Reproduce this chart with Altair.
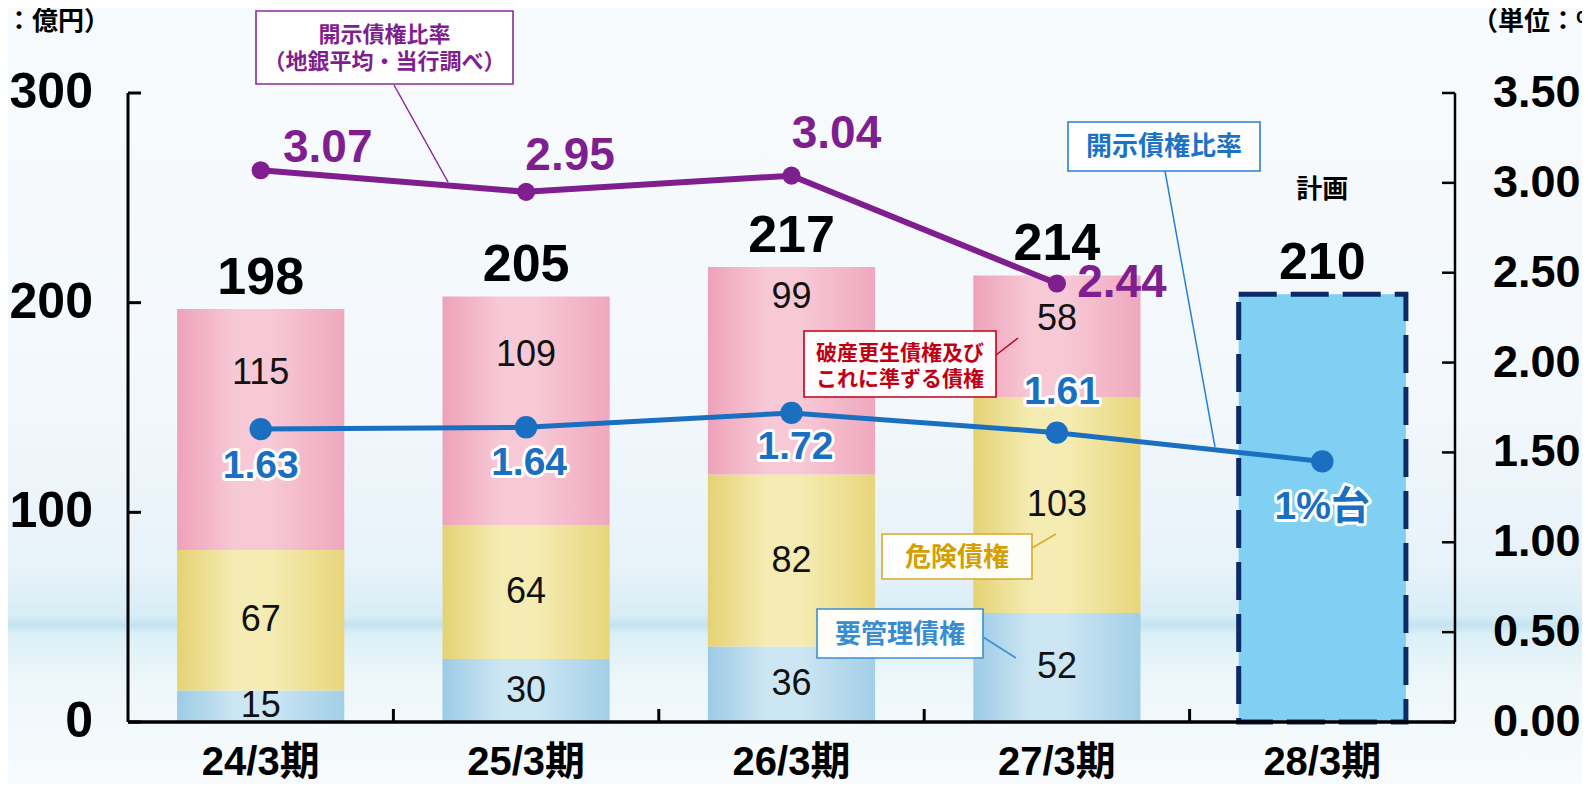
import altair as alt
import pandas as pd

# ---------------- data ----------------
categories = ["24/3期", "25/3期", "26/3期", "27/3期", "28/3期"]
youkanri = [15, 30, 36, 52]        # 要管理債権
kiken = [67, 64, 82, 103]          # 危険債権
hasan = [115, 109, 99, 58]         # 破産更生債権及びこれに準ずる債権
total_labels = ["198", "205", "217", "214", "210"]
plan_bar_height = 204              # drawn height of the 28/3 plan bar
ratio_regional = [3.07, 2.95, 3.04, 2.44]          # 開示債権比率（地銀平均・当行調べ）
ratio_regional_labels = ["3.07", "2.95", "3.04", "2.44"]
ratio_own = [1.63, 1.64, 1.72, 1.61, 1.45]         # 開示債権比率
ratio_own_labels = ["1.63", "1.64", "1.72", "1.61", "1%台"]
left_ticks = [0, 100, 200, 300]
left_tick_labels = ["0", "100", "200", "300"]
right_ticks = [0, 0.5, 1.0, 1.5, 2.0, 2.5, 3.0, 3.5]
right_tick_labels = ["0.00", "0.50", "1.00", "1.50", "2.00", "2.50", "3.00", "3.50"]

# ---------------- styles ----------------
W, H = 1327, 629
NUM = "Liberation Sans"
JP = "Noto Sans CJK JP"
MIX = "Liberation Sans, Noto Sans CJK JP"
PURPLE = "#7f1f8f"
BLUE = "#1a6fc0"
P_INNER = 0.37

xscale = alt.Scale(domain=categories, paddingInner=P_INNER, paddingOuter=P_INNER / 2)
lscale = alt.Scale(domain=[0, 300], nice=False, zero=True)
rscale = alt.Scale(domain=[0, 3.5], nice=False, zero=True)


def X():
    return alt.X("cat:N", sort=categories, scale=xscale, axis=None)


def YL(f):
    return alt.Y(f, scale=lscale, axis=None)


def YR(f):
    return alt.Y(f, scale=rscale, axis=None)


def grad(c_edge, c_mid, c_edge2):
    return alt.LinearGradient(
        gradient="linear", x1=0, x2=1, y1=0, y2=0,
        stops=[alt.GradientStop(offset=0, color=c_edge),
               alt.GradientStop(offset=0.35, color=c_mid),
               alt.GradientStop(offset=0.55, color=c_mid),
               alt.GradientStop(offset=1, color=c_edge2)])


one = pd.DataFrame({"k": [0]})

# ---------------- stacked segments ----------------
series_names = ["要管理債権", "危険債権", "破産更生"]
series_vals = [youkanri, kiken, hasan]
rows = []
for i in range(4):
    lo = 0
    for name, vals in zip(series_names, series_vals):
        v = vals[i]
        rows.append({"cat": categories[i], "series": name, "lo": lo, "hi": lo + v,
                     "mid": lo + v / 2, "label": str(v)})
        lo += v
seg = pd.DataFrame(rows)

fills = {
    "要管理債権": grad("#9ccbe5", "#cde6f3", "#a2cfe7"),
    "危険債権": grad("#e5d275", "#f5ecb3", "#e8d67c"),
    "破産更生": grad("#eea2ba", "#f7c9d6", "#efa8be"),
}

left_layers = []

# background (sky / sea)
bg = alt.Chart(one).mark_rect(
    color=alt.LinearGradient(
        gradient="linear", x1=0, x2=0, y1=0, y2=1,
        stops=[alt.GradientStop(offset=0, color="#f8fbfd"),
               alt.GradientStop(offset=0.5, color="#f3f8fc"),
               alt.GradientStop(offset=0.72, color="#e7f2f9"),
               alt.GradientStop(offset=0.783, color="#d8edf6"),
               alt.GradientStop(offset=0.795, color="#c3e3f1"),
               alt.GradientStop(offset=0.807, color="#dbf0f7"),
               alt.GradientStop(offset=0.87, color="#eef7fa"),
               alt.GradientStop(offset=1, color="#f8fbfd")])
).encode(x=alt.value(-120), x2=alt.value(W + 127), y=alt.value(-85), y2=alt.value(H + 62))
left_layers.append(bg)

for name in series_names:
    left_layers.append(
        alt.Chart(seg).transform_filter(alt.datum.series == name).mark_bar(
            fill=fills[name]).encode(x=X(), y=YL("lo:Q"), y2="hi:Q"))

plan = pd.DataFrame({"cat": [categories[4]], "lo": [0], "hi": [plan_bar_height]})
left_layers.append(
    alt.Chart(plan).mark_bar(fill="#7fd0f2", stroke="#0c2a68", strokeWidth=5,
                             strokeDash=[38, 14]).encode(x=X(), y=YL("lo:Q"), y2="hi:Q"))

# segment labels: blue and yellow centred, pink ones raised above the ratio line
seg_text = dict(font=NUM, fontSize=36, color="#111111", baseline="middle")
left_layers.append(
    alt.Chart(seg).transform_filter(alt.datum.series != "破産更生").mark_text(**seg_text).encode(
        x=X(), y=YL("mid:Q"), text="label:N"))
pink_dy = [-57, -56, -74, -17]
for c, dy in zip(categories[:4], pink_dy):
    left_layers.append(
        alt.Chart(seg).transform_filter(
            (alt.datum.series == "破産更生") & (alt.datum.cat == c)
        ).mark_text(dy=dy, **seg_text).encode(x=X(), y=YL("mid:Q"), text="label:N"))

# totals
tops = [youkanri[i] + kiken[i] + hasan[i] for i in range(4)] + [plan_bar_height]
tot = pd.DataFrame({"cat": categories, "top": tops, "label": total_labels})
left_layers.append(
    alt.Chart(tot).mark_text(font=NUM, fontSize=52, fontWeight="bold", color="black",
                             baseline="alphabetic", dy=-15).encode(
        x=X(), y=YL("top:Q"), text="label:N"))
plan_lab = pd.DataFrame({"cat": [categories[4]], "top": [plan_bar_height], "t": ["計画"]})
left_layers.append(
    alt.Chart(plan_lab).mark_text(font=JP, fontSize=26, fontWeight="bold", color="black",
                                  baseline="middle", dy=-104).encode(
        x=X(), y=YL("top:Q"), text="t:N"))

# ---- axes drawn by hand (domain lines, inward ticks, labels) ----
for (x1, y1, x2, y2, sw) in [(0, 0, 0, H, 3), (0, H, W, H, 3.5), (W, 0, W, H, 2.5)]:
    left_layers.append(alt.Chart(one).mark_rule(color="black", strokeWidth=sw).encode(
        x=alt.value(x1), y=alt.value(y1), x2=alt.value(x2), y2=alt.value(y2)))

lt = pd.DataFrame({"v": left_ticks, "label": left_tick_labels})
left_layers.append(
    alt.Chart(lt).mark_rule(color="black", strokeWidth=3).encode(
        y=YL("v:Q"), x=alt.value(0), x2=alt.value(13)))
left_layers.append(
    alt.Chart(lt).mark_text(font=NUM, fontSize=50, fontWeight="bold", color="black",
                            align="right", baseline="middle").encode(
        y=YL("v:Q"), x=alt.value(-35), text="label:N"))

bt = pd.DataFrame({"cat": categories[:4]})
left_layers.append(
    alt.Chart(bt).mark_rule(color="black", strokeWidth=3,
                            xOffset=P_INNER * (W / 5) / 2).encode(
        x=alt.X("cat:N", sort=categories, scale=xscale, axis=None, bandPosition=1),
        y=alt.value(H - 13), y2=alt.value(H)))
xl = pd.DataFrame({"cat": categories})
left_layers.append(
    alt.Chart(xl).mark_text(font=MIX, fontSize=40, fontWeight="bold", color="black",
                            baseline="middle").encode(
        x=X(), y=alt.value(H + 41), text="cat:N"))

# unit titles
left_layers.append(alt.Chart(one).mark_text(
    text="（単位：億円）", font=JP, fontSize=26, fontWeight="bold", color="black",
    align="right", baseline="middle").encode(x=alt.value(-18), y=alt.value(-71)))
left_layers.append(alt.Chart(one).mark_text(
    text="（単位：%）", font=JP, fontSize=26, fontWeight="bold", color="black",
    align="left", baseline="middle").encode(x=alt.value(1344), y=alt.value(-71)))


# annotation callouts (pixel positions inside the plot area)
def callout(x1, y1, x2, y2, border, color, lines, fsize, leader):
    out = [alt.Chart(one).mark_rect(fill="white", fillOpacity=0.93, stroke=border,
                                    strokeWidth=1.6).encode(
        x=alt.value(x1), x2=alt.value(x2), y=alt.value(y1), y2=alt.value(y2))]
    for (txt, ty) in lines:
        out.append(alt.Chart(one).mark_text(text=txt, font=JP, fontSize=fsize,
                                            fontWeight="bold", color=color,
                                            baseline="middle", align="center").encode(
            x=alt.value((x1 + x2) / 2), y=alt.value(ty)))
    lx1, ly1, lx2, ly2 = leader
    out.append(alt.Chart(one).mark_rule(color=border, strokeWidth=1.5).encode(
        x=alt.value(lx1), y=alt.value(ly1), x2=alt.value(lx2), y2=alt.value(ly2)))
    return out


left_layers += callout(676, 238, 868, 304, "#c0001a", "#c00012",
                       [("破産更生債権及び", 261), ("これに準ずる債権", 287)], 21,
                       (868, 262, 890, 245))
left_layers += callout(754, 441, 904, 486, "#d9ab2a", "#d49f00",
                       [("危険債権", 465)], 26, (904, 455, 928, 441))
left_layers += callout(689, 516, 855, 565, "#3c8fd2", "#3a8cd0",
                       [("要管理債権", 542)], 26, (855, 544, 888, 565))
left_layers += callout(128, -82, 385, -9, "#8a2a9a", PURPLE,
                       [("開示債権比率", -58), ("（地銀平均・当行調べ）", -31)], 22,
                       (266, -8, 320, 89))
left_layers += callout(940, 29, 1132, 78, "#2a80d2", "#1a73c7",
                       [("開示債権比率", 54)], 26, (1037, 78, 1087, 354))

left_group = alt.layer(*left_layers)

# ---------------- ratio lines (right axis) ----------------
reg = pd.DataFrame({"cat": categories[:4], "v": ratio_regional, "label": ratio_regional_labels})
own = pd.DataFrame({"cat": categories, "v": ratio_own, "label": ratio_own_labels})
rt = pd.DataFrame({"v": right_ticks, "label": right_tick_labels})

right_layers = []
right_layers.append(
    alt.Chart(rt).mark_rule(color="black", strokeWidth=2.5).encode(
        y=YR("v:Q"), x=alt.value(W - 13), x2=alt.value(W)))
right_layers.append(
    alt.Chart(rt).mark_text(font=NUM, fontSize=45, fontWeight="bold", color="black",
                            align="left", baseline="middle").encode(
        y=YR("v:Q"), x=alt.value(W + 38), text="label:N"))
right_layers.append(
    alt.Chart(reg).mark_line(color=PURPLE, strokeWidth=6).encode(x=X(), y=YR("v:Q")))
right_layers.append(
    alt.Chart(reg).mark_circle(color=PURPLE, size=330, opacity=1).encode(x=X(), y=YR("v:Q")))
right_layers.append(
    alt.Chart(own).mark_line(color=BLUE, strokeWidth=5).encode(x=X(), y=YR("v:Q")))
right_layers.append(
    alt.Chart(own).mark_circle(color=BLUE, size=500, opacity=1).encode(x=X(), y=YR("v:Q")))

reg_offsets = [(67, -22), (44, -36), (45, -42), (65, 0)]
own_offsets = [(0, 37), (3, 36), (4, 34), (5, -41), (0, 46)]

for c, (dx, dy) in zip(categories[:4], reg_offsets):
    right_layers.append(
        alt.Chart(reg).transform_filter(alt.datum.cat == c).mark_text(
            font=NUM, fontSize=46, fontWeight="bold", color=PURPLE, baseline="middle",
            dx=dx, dy=dy).encode(x=X(), y=YR("v:Q"), text="label:N"))
for c, (dx, dy) in zip(categories, own_offsets):
    for halo in (True, False):
        props = dict(font=MIX, fontSize=39, fontWeight="bold", color=BLUE,
                     baseline="middle", dx=dx, dy=dy)
        if halo:
            props.update(stroke="white", strokeWidth=6, strokeJoin="round")
        right_layers.append(
            alt.Chart(own).transform_filter(alt.datum.cat == c).mark_text(**props).encode(
                x=X(), y=YR("v:Q"), text="label:N"))

right_group = alt.layer(*right_layers)

chart = alt.layer(left_group, right_group).resolve_scale(y="independent").properties(
    width=W, height=H,
    autosize=alt.AutoSizeParams(type="none"),
    padding={"left": 120, "top": 85, "right": 127, "bottom": 62},
    background="white",
).configure_view(strokeWidth=0)

chart.save("out.html", embed_options={"renderer": "svg", "actions": False})
